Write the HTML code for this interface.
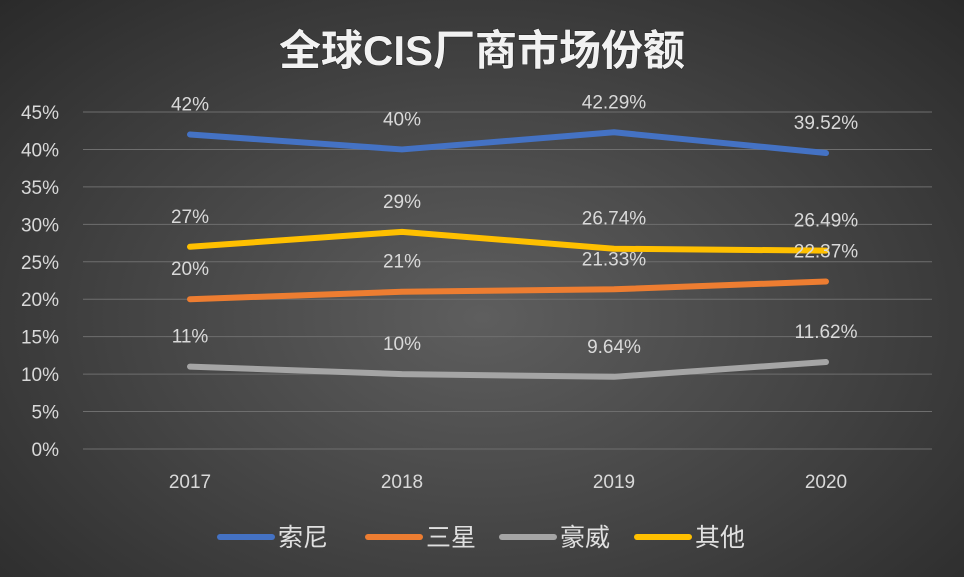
<!DOCTYPE html>
<html><head><meta charset="utf-8"><style>
html,body{margin:0;padding:0;}
body{width:964px;height:577px;overflow:hidden;background:radial-gradient(ellipse at 50% 55%,#5e5e5e 0%,#474747 45%,#2a2a2a 100%);font-family:"Liberation Sans","Noto Sans CJK SC",sans-serif;}
svg{display:block}
</style></head><body>
<svg id="chart" width="964" height="577" xmlns="http://www.w3.org/2000/svg">
<text x="482" y="65" text-anchor="middle" font-size="42" font-weight="bold" fill="#f2f2f2" font-family="Liberation Sans,Noto Sans CJK SC,sans-serif" style="paint-order:stroke" stroke="#222" stroke-width="1">全球CIS厂商市场份额</text>
<g id="grid"></g><g id="series"></g><g id="labels"></g><g id="legend"></g>
</svg>
<script>
const categories=["2017","2018","2019","2020"];
const yTicks=[0,5,10,15,20,25,30,35,40,45];
const seriesNames=["索尼","三星","豪威","其他"];
const sony=[42,40,42.29,39.52];
const samsung=[20,21,21.33,22.37];
const omni=[11,10,9.64,11.62];
const others=[27,29,26.74,26.49];
const sonyLabels=["42%","40%","42.29%","39.52%"];
const samsungLabels=["20%","21%","21.33%","22.37%"];
const omniLabels=["11%","10%","9.64%","11.62%"];
const othersLabels=["27%","29%","26.74%","26.49%"];
const colors=["#4472C4","#ED7D31","#A5A5A5","#FFC000"];
const NS="http://www.w3.org/2000/svg";
const x=i=>190+i*212;
const y=v=>449-v*(337/45);
function mk(tag,attrs,parent){const e=document.createElementNS(NS,tag);for(const k in attrs)e.setAttribute(k,attrs[k]);parent.appendChild(e);return e;}
const grid=document.getElementById('grid');
yTicks.forEach(t=>{
  const l=mk('line',{x1:83,x2:932,y1:y(t),y2:y(t),stroke:'#6e6e6e','stroke-width':1},grid);
  
  
  const tx=mk('text',{x:59,y:y(t)+7,'text-anchor':'end','font-size':19,fill:'#d9d9d9'},grid);
  tx.textContent=t+'%';
  
  
});
categories.forEach((c,i)=>{
  const tx=mk('text',{x:x(i),y:488,'text-anchor':'middle','font-size':19,fill:'#d9d9d9'},grid);
  tx.textContent=c;
  
  
});
const all=[sony,samsung,omni,others];
const allLabels=[sonyLabels,samsungLabels,omniLabels,othersLabels];
const sg=document.getElementById('series'),lg=document.getElementById('labels');
all.forEach((d,s)=>{
  const p=mk('polyline',{points:d.map((v,i)=>x(i)+','+y(v)).join(' '),fill:'none',stroke:colors[s],'stroke-width':6,'stroke-linejoin':'round','stroke-linecap':'round'},sg);
  
  
  d.forEach((v,i)=>{
    const t=mk('text',{x:x(i),y:y(v)-24,'text-anchor':'middle','font-size':19,fill:'#d9d9d9'},lg);
    t.textContent=allLabels[s][i];
    
    
  });
});
const leg=document.getElementById('legend');
const lx=[220,368,502,637];
seriesNames.forEach((n,s)=>{
  const l=mk('line',{x1:lx[s],x2:lx[s]+52,y1:537,y2:537,stroke:colors[s],'stroke-width':6,'stroke-linecap':'round'},leg);
  
  
  const t=mk('text',{x:lx[s]+58,y:546,'font-size':25,fill:'#e0e0e0'},leg);
  t.textContent=n;
  
  
});
</script>
</body></html>
